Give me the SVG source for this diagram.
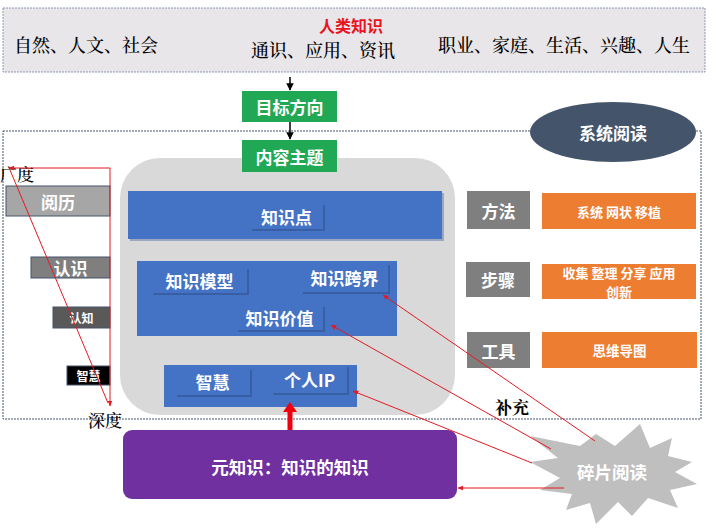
<svg xmlns="http://www.w3.org/2000/svg" width="722" height="532" viewBox="0 0 722 532">
<style>
.sans{font-family:"Noto Sans CJK SC","Liberation Sans",sans-serif;font-weight:bold;}
.serif{font-family:"Noto Serif CJK SC","Liberation Serif","Noto Sans CJK SC",serif;font-weight:500;}
.serifb{font-family:"Noto Serif CJK SC","Liberation Serif","Noto Sans CJK SC",serif;font-weight:bold;}
.w{fill:#ffffff;}
.c{text-anchor:middle;dominant-baseline:central;}
.blue{fill:#4472c4;}
.lbl{fill:#4472c4;}
.sh{fill:#2f4f8a;opacity:0.55;}
.green{fill:#21a855;}
.gbox{fill:#7f7f7f;}
.obox{fill:#ed7d31;}
.red{stroke:#e21b23;stroke-width:1;fill:none;}
.blk{stroke:#000;stroke-width:1.5;fill:none;}
</style>
<defs>
<marker id="ab" viewBox="0 0 10 10" refX="9" refY="5" markerWidth="5" markerHeight="5" orient="auto"><path d="M0,0L10,5L0,10z" fill="#000"/></marker>
<marker id="ar" viewBox="0 0 10 10" refX="9" refY="5" markerWidth="6" markerHeight="6" orient="auto"><path d="M0,1L10,5L0,9z" fill="#e21b23"/></marker>
</defs>
<rect width="722" height="532" fill="#ffffff"/>

<g id="top-knowledge">
<rect x="3" y="8" width="702" height="64" fill="#e8e6e8" stroke="#8a98b4" stroke-width="1" stroke-dasharray="2,1"/>
<text class="serif" x="14" y="44" font-size="18" dominant-baseline="central">自然、人文、社会</text>
<text class="sans" x="351" y="25" font-size="16" fill="#e8141f" text-anchor="middle" dominant-baseline="central">人类知识</text>
<text class="serif" x="323" y="49" font-size="18" text-anchor="middle" dominant-baseline="central">通识、应用、资讯</text>
<text class="serif" x="564" y="44" font-size="18" text-anchor="middle" dominant-baseline="central">职业、家庭、生活、兴趣、人生</text>
</g>

<g id="system-frame">
<rect x="3" y="131" width="698" height="288" fill="none" stroke="#44546a" stroke-width="1" stroke-dasharray="2,1"/>
</g>

<g id="system-reading">
<ellipse cx="613" cy="132" rx="83" ry="30" fill="#44546a"/>
<text class="sans w c" x="613" y="132" font-size="17">系统阅读</text>
</g>

<g id="content-area">
<rect x="120" y="158" width="335" height="257" rx="40" fill="#d9d9d9"/>
</g>

<g id="goal">
<rect class="green" x="242" y="91" width="95" height="31"/>
<text class="sans w c" x="289.5" y="106.5" font-size="17">目标方向</text>
</g>
<g id="topic">
<rect class="green" x="242" y="140" width="95" height="32"/>
<text class="sans w c" x="289.5" y="156" font-size="17">内容主题</text>
</g>

<g id="knowledge-point">
<rect x="130" y="193" width="314" height="48" fill="#3b5f9e" opacity="0.4"/>
<rect class="blue" x="128" y="191" width="314" height="48"/>
<rect class="sh" x="252" y="205" width="73" height="26"/>
<rect class="lbl" x="250" y="203" width="73" height="26"/>
<text class="sans w c" x="286.5" y="216" font-size="17">知识点</text>
</g>

<g id="knowledge-group">
<rect class="blue" x="137" y="261" width="260" height="75"/>
<rect class="sh" x="154" y="269" width="95" height="26"/>
<rect class="lbl" x="152" y="267" width="95" height="26"/>
<text class="sans w c" x="199.5" y="280" font-size="17">知识模型</text>
<rect class="sh" x="303" y="265" width="87" height="29"/>
<rect class="lbl" x="301" y="263" width="87" height="29"/>
<text class="sans w c" x="344.5" y="277.5" font-size="17">知识跨界</text>
<rect class="sh" x="238" y="307" width="87" height="25"/>
<rect class="lbl" x="236" y="305" width="87" height="25"/>
<text class="sans w c" x="279.5" y="317.5" font-size="17">知识价值</text>
</g>

<g id="wisdom-group">
<rect class="blue" x="164" y="365" width="193" height="42"/>
<rect class="sh" x="177" y="370" width="75" height="27"/>
<rect class="lbl" x="175" y="368" width="75" height="27"/>
<text class="sans w c" x="212.5" y="381.5" font-size="17">智慧</text>
<rect class="sh" x="274" y="367" width="75" height="28"/>
<rect class="lbl" x="272" y="365" width="75" height="28"/>
<text class="sans w c" x="309.5" y="379" font-size="17">个人IP</text>
</g>

<g id="left-levels">
<rect x="6" y="186" width="104" height="30" fill="#a6a6a6" stroke="#44546a" stroke-width="1"/>
<text class="sans w c" x="58" y="201" font-size="17">阅历</text>
<rect x="31" y="257" width="79" height="21" fill="#7f7f7f" stroke="#44546a" stroke-width="1"/>
<text class="sans w c" x="70.5" y="267.5" font-size="17">认识</text>
<rect x="53" y="307" width="57" height="21" fill="#595959" stroke="#44546a" stroke-width="1"/>
<text class="sans w c" x="81.5" y="317.5" font-size="12">认知</text>
<rect x="67" y="366" width="43" height="19" fill="#000000" stroke="#44546a" stroke-width="1"/>
<text class="sans w c" x="88.5" y="375.5" font-size="12">智慧</text>
<text class="serif" x="0" y="173" font-size="17" dominant-baseline="central">广度</text>
<text class="serif" x="88" y="419" font-size="17" dominant-baseline="central">深度</text>
</g>

<g id="method">
<rect class="gbox" x="467" y="191" width="63" height="38"/>
<text class="sans w c" x="498.5" y="210" font-size="17">方法</text>
<rect class="obox" x="542" y="193" width="154" height="36"/>
<text class="sans w c" x="619" y="211" font-size="13">系统 网状 移植</text>
</g>
<g id="steps">
<rect class="gbox" x="466" y="262" width="64" height="35"/>
<text class="sans w c" x="498" y="279.5" font-size="17">步骤</text>
<rect class="obox" x="542" y="264" width="154" height="35"/>
<text class="sans w" font-size="13" text-anchor="middle"><tspan x="619" y="277.5">收集 整理 分享 应用</tspan><tspan x="619" y="296.5">创新</tspan></text>
</g>
<g id="tools">
<rect class="gbox" x="467" y="332" width="63" height="36"/>
<text class="sans w c" x="498.5" y="350" font-size="17">工具</text>
<rect class="obox" x="542" y="332" width="155" height="36"/>
<text class="sans w c" x="619.5" y="350" font-size="13.5">思维导图</text>
</g>

<g id="supplement">
<text class="serifb" x="495" y="406" font-size="17" dominant-baseline="central">补充</text>
</g>

<g id="meta-knowledge">
<rect x="123" y="430" width="334" height="69" rx="9" fill="#7030a0"/>
<text class="sans w c" x="290" y="466" font-size="17.5">元知识：知识的知识</text>
</g>

<g id="fragment-reading">
<polygon points="640,424 650,448 672,438 668,456 692,462 675,472 697,484 670,490 678,508 648,498 632,516 618,502 596,524 590,503 566,510 572,494 540,490 560,478 530,462 558,458 530,436 580,446 596,434 615,446" fill="#bfbfbf"/>
<text class="sans w c" x="612" y="471" font-size="17.5">碎片阅读</text>
</g>

<g id="connectors">
<line class="blk" x1="290" y1="77" x2="290" y2="90" marker-end="url(#ab)"/>
<line class="blk" x1="290" y1="122" x2="290" y2="139" marker-end="url(#ab)"/>
<line class="red" x1="110" y1="168" x2="9" y2="168" marker-end="url(#ar)"/>
<line class="red" x1="110" y1="168" x2="110" y2="406" marker-end="url(#ar)"/>
<line class="red" x1="10" y1="170" x2="108" y2="403"/>
<line class="red" x1="595" y1="441" x2="383" y2="295" marker-end="url(#ar)"/>
<line class="red" x1="551" y1="449" x2="331" y2="325" marker-end="url(#ar)"/>
<line class="red" x1="532" y1="463" x2="353" y2="391" marker-end="url(#ar)"/>
<line class="red" x1="564" y1="488" x2="458" y2="488" marker-end="url(#ar)"/>
<polygon points="287.5,430 292.5,430 292.5,412 297,412 290,402 283,412 287.5,412" fill="#f0000f"/>
</g>
</svg>
